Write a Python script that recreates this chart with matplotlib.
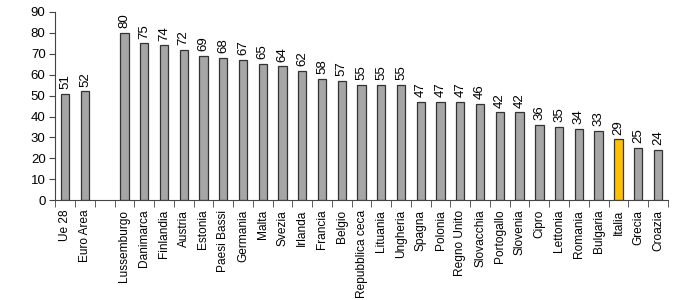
import matplotlib
matplotlib.use("Agg")
import matplotlib.pyplot as plt
import numpy as np

plt.rcParams['font.family'] = ['Liberation Sans', 'DejaVu Sans']

categories = ["Ue 28", "Euro Area", "", "Lussemburgo", "Danimarca", "Finlandia", "Austria",
              "Estonia", "Paesi Bassi", "Germania", "Malta", "Svezia", "Irlanda", "Francia",
              "Belgio", "Repubblica ceca", "Lituania", "Ungheria", "Spagna", "Polonia",
              "Regno Unito", "Slovacchia", "Portogallo", "Slovenia", "Cipro", "Lettonia",
              "Romania", "Bulgaria", "Italia", "Grecia", "Croazia"]
values = [51, 52, None, 80, 75, 74, 72, 69, 68, 67, 65, 64, 62, 58, 57, 55, 55, 55,
          47, 47, 47, 46, 42, 42, 36, 35, 34, 33, 29, 25, 24]
highlight = "Italia"

fig = plt.figure(figsize=(7, 3), dpi=100)
ax = fig.add_axes([0.079, 0.333, 0.875, 0.627])

x = np.arange(len(categories))
for i, (c, v) in enumerate(zip(categories, values)):
    if v is None:
        continue
    color = "#ffc000" if c == highlight else "#a6a6a6"
    ax.bar(i, v, width=0.42, color=color, edgecolor="#333333", linewidth=0.9)
    ax.text(i, v + 2.3, str(v), rotation=90, ha="center", va="bottom", fontsize=9.5)

ax.set_xlim(-0.5, len(categories) - 0.5)
ax.set_ylim(0, 90)
ax.set_yticks(np.arange(0, 91, 10))
ax.set_xticks(x)
ax.set_xticklabels(categories, rotation=90, fontsize=8.6)
ax.set_xticks(np.arange(-0.5, len(categories), 1), minor=True)
ax.tick_params(axis="x", which="major", length=0, pad=7)
ax.tick_params(axis="x", which="minor", length=5, direction="out", color="#444444")
ax.tick_params(axis="y", length=4, direction="out", labelsize=9.5, color="#444444", pad=3)
for s in ["top", "right"]:
    ax.spines[s].set_visible(False)
for s in ["left", "bottom"]:
    ax.spines[s].set_color("#444444")

fig.savefig("out.png", dpi=100)
